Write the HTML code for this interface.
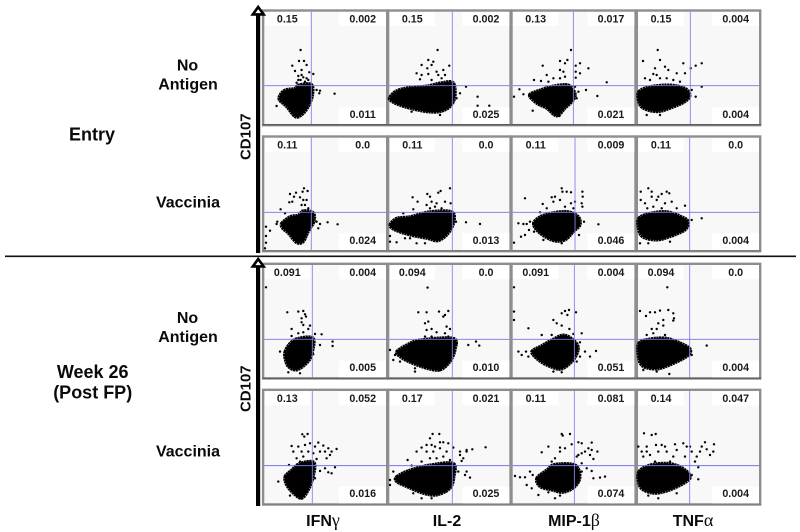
<!DOCTYPE html>
<html lang="en">
<head>
<meta charset="utf-8">
<title>CD107 flow cytometry panels</title>
<style>
html,body{margin:0;padding:0;background:#fff;width:800px;height:532px;overflow:hidden}
svg{display:block}
text{font-family:"Liberation Sans",sans-serif;font-weight:bold;fill:#0a0a0a}
.group{font-size:18px}
.stim{font-size:16px}
.axis{font-size:15px}
.col{font-size:16px}
.quad{font-size:10.7px;fill:#1a1a1a}
.greek{font-family:"Liberation Serif",serif;font-weight:normal;font-size:18px}
</style>
</head>
<body>
<svg id="chart" xmlns="http://www.w3.org/2000/svg" width="800" height="532" viewBox="0 0 800 532">
  <rect x="0" y="0" width="800" height="532" fill="#fff"/>
  <g id="panels"></g>

  <line x1="5" y1="256.3" x2="796" y2="256.3" stroke="#111" stroke-width="1.6"/>

  <g>
    <rect x="256" y="12" width="4.2" height="241" fill="#000"/>
    <path d="M258.2 7 L263.6 14.4 L252.8 14.4 Z" fill="#fff" stroke="#000" stroke-width="2.6" stroke-linejoin="miter"/>
  </g>
  <g>
    <rect x="256" y="264" width="4.2" height="242" fill="#000"/>
    <path d="M258.2 259 L263.6 266.4 L252.8 266.4 Z" fill="#fff" stroke="#000" stroke-width="2.6" stroke-linejoin="miter"/>
  </g>

  <text class="axis" text-anchor="middle" transform="translate(250.5 136.7) rotate(-90)">CD107</text>
  <text class="axis" text-anchor="middle" transform="translate(250.5 388.7) rotate(-90)">CD107</text>

  <text class="group" x="92" y="140.5" text-anchor="middle">Entry</text>
  <text class="group" x="92.7" y="378" text-anchor="middle">Week 26</text>
  <text class="group" x="92.7" y="398.5" text-anchor="middle">(Post FP)</text>

  <text class="stim" x="187.5" y="70.5" text-anchor="middle">No</text>
  <text class="stim" x="188" y="89.3" text-anchor="middle">Antigen</text>
  <text class="stim" x="188" y="207.3" text-anchor="middle">Vaccinia</text>
  <text class="stim" x="187.5" y="323" text-anchor="middle">No</text>
  <text class="stim" x="188" y="342" text-anchor="middle">Antigen</text>
  <text class="stim" x="188" y="456.3" text-anchor="middle">Vaccinia</text>

  <text class="col" x="323" y="526" text-anchor="middle">IFN<tspan class="greek">γ</tspan></text>
  <text class="col" x="447" y="526" text-anchor="middle">IL-2</text>
  <text class="col" x="574" y="526" text-anchor="middle">MIP-1<tspan class="greek">β</tspan></text>
  <text class="col" x="693" y="526" text-anchor="middle">TNF<tspan class="greek">α</tspan></text>
</svg>

<script>
// Quadrant percentages, one row per stimulation, four markers per row.
const markers = ['ifn-gamma', 'il-2', 'mip-1-beta', 'tnf-alpha'];
const upperLeftValues = [
  ['0.15', '0.15', '0.13', '0.15'],
  ['0.11', '0.11', '0.11', '0.11'],
  ['0.091', '0.094', '0.091', '0.094'],
  ['0.13', '0.17', '0.11', '0.14']
];
const upperRightValues = [
  ['0.002', '0.002', '0.017', '0.004'],
  ['0.0', '0.0', '0.009', '0.0'],
  ['0.004', '0.0', '0.004', '0.0'],
  ['0.052', '0.021', '0.081', '0.047']
];
const lowerRightValues = [
  ['0.011', '0.025', '0.021', '0.004'],
  ['0.024', '0.013', '0.046', '0.004'],
  ['0.005', '0.010', '0.051', '0.004'],
  ['0.016', '0.025', '0.074', '0.004']
];
// Gate positions in instrument channels.
const gateXChannels = [
  [141, 189, 182, 157],
  [141, 189, 187, 155],
  [144, 189, 185, 155],
  [144, 189, 185, 155]
];
const gateYChannels = [115, 113, 114, 113];

// Dense population outlines [channelX, channelY] per panel.
const coreR1C1 = [[47,87],[62,102],[92,107],[102,117],[141,119],[145,87],[132,52],[112,27],[92,22],[67,52],[45,72]];
const coreR1C2 = [[2,82],[22,100],[62,110],[112,114],[157,124],[192,124],[197,82],[182,52],[152,37],[112,37],[62,47],[22,60],[2,72]];
const coreR1C3 = [[50,87],[82,102],[122,114],[167,117],[187,92],[182,72],[157,47],[132,24],[102,47],[72,62]];
const coreR1C4 = [[2,97],[36,112],[96,117],[141,107],[156,87],[141,67],[96,47],[56,37],[16,47],[2,67]];
const coreR2C1 = [[52,80],[77,100],[102,105],[117,118],[147,112],[149,85],[132,55],[117,25],[97,22],[72,50],[55,65]];
const coreR2C2 = [[2,75],[22,95],[62,100],[122,115],[187,115],[194,85],[177,50],[147,28],[112,35],[62,45],[17,60]];
const coreR2C3 = [[62,78],[82,100],[122,112],[167,115],[197,100],[202,75],[182,55],[157,30],[122,28],[82,50]];
const coreR2C4 = [[2,95],[36,110],[86,115],[131,100],[151,85],[141,60],[96,40],[56,30],[16,38],[2,60]];
const coreR3C1 = [[62,77],[77,102],[102,117],[147,117],[142,67],[127,42],[97,22],[72,32],[62,57]];
const coreR3C2 = [[22,77],[52,97],[92,112],[192,117],[197,82],[182,47],[152,22],[112,27],[62,45],[32,62]];
const coreR3C3 = [[57,77],[87,95],[117,112],[152,127],[182,112],[197,87],[182,52],[147,25],[112,32],[77,52]];
const coreR3C4 = [[2,102],[36,115],[86,117],[136,99],[158,82],[146,62],[96,37],[56,25],[16,32],[2,57]];
const coreR4C1 = [[62,80],[82,100],[107,120],[149,123],[147,80],[132,40],[112,15],[87,30],[67,55]];
const coreR4C2 = [[22,80],[62,100],[122,115],[192,120],[194,80],[182,45],[142,25],[102,30],[52,50],[22,65]];
const coreR4C3 = [[72,75],[102,100],[127,117],[187,115],[202,80],[187,50],[152,33],[117,40],[82,50]];
const coreR4C4 = [[2,95],[36,115],[86,120],[126,110],[156,85],[146,65],[96,40],[51,30],[16,40],[2,60]];

// Individually visible events [channelX, channelY] per panel.
const eventsR1C1 = [[109,222],[104,189],[119,189],[84,175],[127,177],[92,159],[112,162],[147,150],[135,155],[102,144],[112,147],[117,140],[127,137],[102,132],[109,132],[122,127],[132,132],[97,124],[157,102],[167,100],[165,92],[211,91],[37,54],[102,24]];
const eventsR1C2 = [[145,222],[117,192],[132,187],[127,177],[114,167],[97,177],[82,152],[97,147],[117,150],[142,157],[162,162],[180,175],[92,134],[127,132],[147,147],[157,137],[167,147],[230,112],[265,82],[265,55],[300,55],[152,27],[67,37],[212,92],[202,77]];
const eventsR1C3 = [[175,222],[164,192],[142,189],[90,175],[157,182],[202,182],[189,175],[227,167],[202,152],[189,157],[142,162],[152,157],[102,147],[157,142],[142,137],[64,132],[85,129],[122,137],[107,127],[189,139],[282,125],[220,102],[254,84],[197,97],[192,77],[20,104],[4,82],[32,89],[60,40],[140,24],[187,112]];
const eventsR1C4 = [[59,222],[15,189],[66,192],[136,182],[173,175],[191,182],[158,167],[81,172],[51,167],[91,162],[46,150],[21,137],[56,147],[116,152],[141,152],[36,132],[66,137],[106,132],[126,127],[86,137],[191,112],[173,82],[161,102],[26,27],[66,27],[151,77]];
const eventsR2C1 = [[119,185],[115,175],[130,177],[95,172],[77,168],[89,160],[107,158],[75,143],[84,145],[117,150],[127,150],[112,135],[122,135],[132,125],[49,122],[62,110],[39,85],[37,78],[17,58],[5,70],[5,42],[5,22],[157,85],[167,78],[190,83],[220,77],[162,65],[2,5]];
const eventsR2C2 = [[182,185],[154,177],[147,172],[114,168],[70,158],[122,160],[127,145],[85,145],[112,135],[142,140],[167,145],[184,140],[137,130],[72,122],[42,110],[122,125],[157,125],[230,83],[272,78],[200,85],[2,42],[22,23],[47,35],[82,20],[107,20],[2,25],[62,35]];
const eventsR2C3 = [[147,185],[149,175],[162,175],[175,173],[209,175],[210,160],[127,160],[117,158],[37,155],[142,150],[175,140],[187,145],[207,140],[209,130],[90,138],[157,130],[122,145],[102,125],[82,113],[17,80],[32,78],[42,78],[52,85],[49,60],[64,55],[25,40],[37,45],[4,22],[257,77],[214,85],[199,45],[147,20],[92,30],[182,125]];
const eventsR2C4 = [[31,185],[8,175],[41,175],[86,175],[94,170],[71,168],[41,160],[8,150],[21,140],[61,160],[56,150],[46,130],[81,140],[101,145],[141,133],[116,125],[28,125],[71,125],[191,95],[161,90],[6,20],[31,20],[96,25]];
const eventsR3C1 = [[5,270],[69,195],[102,197],[117,199],[122,189],[125,182],[112,177],[82,145],[112,165],[117,157],[137,155],[132,145],[102,132],[117,135],[152,130],[172,129],[82,124],[205,107],[205,94],[167,97],[139,97],[147,69],[47,77],[72,15],[107,12]];
const eventsR3C2 = [[115,269],[87,195],[112,195],[149,197],[177,199],[167,187],[162,182],[107,162],[117,167],[127,145],[112,142],[172,152],[182,145],[142,135],[167,132],[107,122],[127,122],[177,122],[237,97],[260,107],[270,95],[202,102],[2,82],[17,67],[12,52],[32,47],[77,17],[77,27],[152,22]];
const eventsR3C3 = [[4,270],[4,197],[4,172],[157,199],[169,202],[147,192],[164,187],[190,195],[122,172],[132,162],[147,155],[170,145],[47,147],[87,127],[117,127],[182,130],[207,132],[202,105],[217,77],[250,79],[232,62],[17,77],[27,67],[40,77],[47,62],[122,17],[147,15],[202,62],[192,47]];
const eventsR3C4 = [[88,270],[6,199],[24,184],[36,195],[51,195],[66,200],[91,202],[106,192],[108,177],[106,170],[76,172],[61,162],[76,155],[41,145],[56,145],[26,127],[46,132],[81,127],[206,95],[161,67],[16,22],[56,17],[94,10]];
const eventsR4C1 = [[114,207],[130,208],[120,200],[162,182],[137,180],[82,172],[102,170],[122,175],[152,170],[177,173],[217,163],[192,165],[182,155],[87,155],[112,155],[132,155],[147,150],[167,155],[202,155],[197,145],[187,135],[97,135],[117,140],[157,133],[107,125],[182,105],[212,108],[167,97],[192,93],[202,90],[42,65],[77,23],[74,115],[152,75],[112,15]];
const eventsR4C2 = [[130,208],[150,208],[122,195],[152,183],[112,175],[127,175],[137,170],[162,183],[177,180],[97,167],[112,155],[132,155],[152,165],[172,155],[192,167],[212,155],[232,160],[249,162],[289,168],[212,145],[222,135],[232,155],[217,127],[82,155],[122,135],[162,140],[182,130],[55,130],[97,125],[142,135],[67,113],[232,95],[227,85],[242,77],[207,95],[2,70],[12,95],[2,55],[72,30],[97,15],[127,15],[172,35],[192,95]];
const eventsR4C3 = [[147,208],[172,208],[150,203],[107,170],[142,167],[157,165],[177,177],[197,183],[207,180],[237,182],[227,165],[237,160],[254,155],[217,155],[207,150],[197,145],[232,145],[192,140],[242,133],[87,153],[142,155],[127,135],[117,125],[207,120],[222,105],[237,97],[242,75],[277,80],[262,77],[207,95],[197,65],[7,82],[22,78],[37,78],[52,95],[60,85],[42,55],[57,45],[77,25],[107,33],[127,15],[142,23],[92,60]];
const eventsR4C4 = [[18,210],[41,205],[53,208],[1,170],[26,170],[54,175],[71,175],[81,170],[201,183],[228,177],[191,170],[206,162],[226,155],[216,145],[186,155],[176,140],[156,170],[136,180],[146,170],[111,177],[26,155],[11,155],[36,145],[61,155],[86,155],[116,160],[161,155],[16,140],[51,125],[106,140],[141,140],[96,125],[171,125],[181,108],[181,72],[161,85],[31,23],[61,15],[116,30]];

const coreSets = [
  [coreR1C1, coreR1C2, coreR1C3, coreR1C4],
  [coreR2C1, coreR2C2, coreR2C3, coreR2C4],
  [coreR3C1, coreR3C2, coreR3C3, coreR3C4],
  [coreR4C1, coreR4C2, coreR4C3, coreR4C4]
];
const eventSets = [
  [eventsR1C1, eventsR1C2, eventsR1C3, eventsR1C4],
  [eventsR2C1, eventsR2C2, eventsR2C3, eventsR2C4],
  [eventsR3C1, eventsR3C2, eventsR3C3, eventsR3C4],
  [eventsR4C1, eventsR4C2, eventsR4C3, eventsR4C4]
];

// Layout (pixels).
const SVG_NS = 'http://www.w3.org/2000/svg';
const colLeft = [264.3, 389.3, 512.7, 638];
const colRight = [386, 509.3, 634.3, 759];
const rowBottom = [124, 250, 377.3, 503.3];
const rowTop = [11.7, 137.7, 265, 391];
const CHANNELS_X = 365, CHANNELS_Y = 337, PX_PER_X = 121.67, PX_PER_Y = 112.33;

function xAxis(col, v) { return colLeft[col] + v / CHANNELS_X * PX_PER_X; }
function yAxis(row, v) { return rowBottom[row] - v / CHANNELS_Y * PX_PER_Y; }
function make(tag, attrs, parent) {
  const el = document.createElementNS(SVG_NS, tag);
  for (const k in attrs) el.setAttribute(k, attrs[k]);
  parent.appendChild(el);
  return el;
}
// Closed Catmull-Rom spline through the outline, so the populations read as rounded clouds.
function smoothOutline(pts) {
  const n = pts.length;
  let d = 'M' + pts[0][0].toFixed(1) + ' ' + pts[0][1].toFixed(1);
  for (let i = 0; i < n; i++) {
    const p0 = pts[(i - 1 + n) % n], p1 = pts[i], p2 = pts[(i + 1) % n], p3 = pts[(i + 2) % n];
    const c1x = p1[0] + (p2[0] - p0[0]) / 6, c1y = p1[1] + (p2[1] - p0[1]) / 6;
    const c2x = p2[0] - (p3[0] - p1[0]) / 6, c2y = p2[1] - (p3[1] - p1[1]) / 6;
    d += ' C' + c1x.toFixed(1) + ' ' + c1y.toFixed(1) + ' ' + c2x.toFixed(1) + ' ' + c2y.toFixed(1) + ' ' + p2[0].toFixed(1) + ' ' + p2[1].toFixed(1);
  }
  return d + ' Z';
}

const root = document.getElementById('panels');
for (let r = 0; r < 4; r++) {
  for (let c = 0; c < 4; c++) {
    const L = colLeft[c], R = colRight[c], T = rowTop[r], B = rowBottom[r];
    const g = make('g', {}, root);
    
    

    const frame = make('rect', { x: L - 1.2, y: T - 1.2, width: R - L + 2.4, height: B - T + 2.4, fill: '#f8f8f8', stroke: '#8e8e8e', 'stroke-width': 2.4 }, g);
    
    
    const edge = make('line', { x1: L - 2, y1: B + 0.8, x2: R + 2, y2: B + 0.8, stroke: r % 2 === 0 ? '#4a4a4a' : '#777', 'stroke-width': 1 }, g);
    
    

    const boxes = [
      [L + 0.6, T + 0.6, 45, 13.6],
      [R - 47, T + 0.6, 47, 13.6],
      [R - 47, B - 16.7, 47, 16.7]
    ];
    for (const b of boxes) {
      const box = make('rect', { x: b[0], y: b[1], width: b[2], height: b[3], fill: '#fff' }, g);
      
      
    }

    const gx = xAxis(c, gateXChannels[r][c]);
    const gy = yAxis(r, gateYChannels[r]);

    const outline = coreSets[r][c].map(p => [xAxis(c, p[0]), yAxis(r, p[1])]);
    const core = make('path', {
      d: smoothOutline(outline),
      fill: '#000', stroke: '#000', 'stroke-width': 3, 'stroke-linejoin': 'round', 'stroke-dasharray': '2.2 0.5'
    }, g);
    
    

    for (const p of eventSets[r][c]) {
      const dot = make('circle', { cx: xAxis(c, p[0]).toFixed(1), cy: yAxis(r, p[1]).toFixed(1), r: 1.2, fill: '#000' }, g);
      
      
    }

    const vGate = make('line', { x1: gx, y1: T, x2: gx, y2: B, stroke: '#8484ea', 'stroke-width': 0.9 }, g);
    
    
    const hGate = make('line', { x1: L, y1: gy, x2: R, y2: gy, stroke: '#7474ea', 'stroke-width': 0.9 }, g);
    
    

    const ulText = make('text', { class: 'quad', x: L + 23, y: T + 11, 'text-anchor': 'middle' }, g);
    ulText.textContent = upperLeftValues[r][c];
    
    

    const urText = make('text', { class: 'quad', x: R - 23.3, y: T + 11, 'text-anchor': 'middle' }, g);
    urText.textContent = upperRightValues[r][c];
    
    

    const lrText = make('text', { class: 'quad', x: R - 23.3, y: B - 6.2, 'text-anchor': 'middle' }, g);
    lrText.textContent = lowerRightValues[r][c];
    
    
  }
}
</script>
</body>
</html>
